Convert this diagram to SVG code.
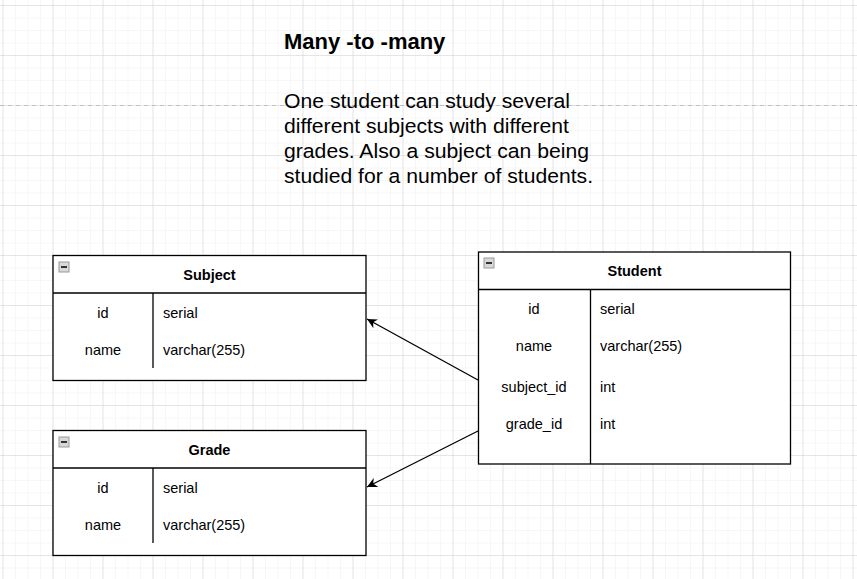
<svg xmlns="http://www.w3.org/2000/svg" width="857" height="579" viewBox="0 0 857 579">
<defs>
<pattern id="minor" x="2.5" y="5" width="12.5" height="12.5" patternUnits="userSpaceOnUse">
<path d="M0 0 H12.5 M0 0 V12.5" fill="none" stroke="#efefef" stroke-width="1"/>
</pattern>
<pattern id="major" x="2.5" y="5" width="50" height="50" patternUnits="userSpaceOnUse">
<path d="M0 0 H50 M0 0 V50" fill="none" stroke="#d4d4d4" stroke-width="1"/>
</pattern>
<marker id="arr" markerWidth="12" markerHeight="10" refX="10" refY="5" orient="auto" markerUnits="userSpaceOnUse">
<path d="M0 0 L10 5 L0 10 L3 5 Z" fill="#000"/>
</marker>
<g id="icon">
<rect x="0" y="0" width="10" height="10" fill="#d8d8d8" stroke="#9a9a9a" stroke-width="1"/>
<rect x="2" y="4" width="6" height="2" fill="#333"/>
</g>
</defs>
<style>
.box{fill:#fff;stroke:#000;stroke-width:1.3}
.ln{stroke:#000;stroke-width:1.3;fill:none}
.hd{font-family:"Liberation Sans",Arial,sans-serif;font-size:14.5px;font-weight:bold;text-anchor:middle}
.k{font-family:"Liberation Sans",Arial,sans-serif;font-size:14.5px;text-anchor:middle}
.v{font-family:"Liberation Sans",Arial,sans-serif;font-size:14.5px}
.t{font-family:"Liberation Sans",Arial,sans-serif}
</style>
<rect width="857" height="579" fill="#fff"/>
<rect width="857" height="579" fill="url(#minor)"/>
<rect width="857" height="579" fill="url(#major)"/>
<line x1="0" y1="105.5" x2="857" y2="105.5" stroke="#c0c0c0" stroke-width="1" stroke-dasharray="4 4"/>

<g id="title">
<text class="t" x="284" y="49" font-size="22" font-weight="bold">Many -to -many</text>
<text class="t" x="284" y="107.5" font-size="20.5" textLength="286" lengthAdjust="spacingAndGlyphs">One student can study several</text>
<text class="t" x="284" y="132.5" font-size="20.5" textLength="285" lengthAdjust="spacingAndGlyphs">different subjects with different</text>
<text class="t" x="284" y="157.5" font-size="20.5" textLength="305" lengthAdjust="spacingAndGlyphs">grades. Also a subject can being</text>
<text class="t" x="284" y="182.5" font-size="20.5" textLength="309" lengthAdjust="spacingAndGlyphs">studied for a number of students.</text>
</g>

<g id="subject">
<rect class="box" x="53" y="255.5" width="313" height="125"/>
<line class="ln" x1="53" y1="293" x2="366" y2="293"/>
<line class="ln" x1="153" y1="293" x2="153" y2="368"/>
<use href="#icon" x="59" y="262"/>
<text class="hd" x="209.5" y="280">Subject</text>
<text class="k" x="103" y="318">id</text>
<text class="v" x="163" y="318">serial</text>
<text class="k" x="103" y="355">name</text>
<text class="v" x="163" y="355">varchar(255)</text>
</g>

<g id="grade">
<rect class="box" x="53" y="430.5" width="313" height="125"/>
<line class="ln" x1="53" y1="468" x2="366" y2="468"/>
<line class="ln" x1="153" y1="468" x2="153" y2="543"/>
<use href="#icon" x="59" y="437"/>
<text class="hd" x="209.5" y="455">Grade</text>
<text class="k" x="103" y="493">id</text>
<text class="v" x="163" y="493">serial</text>
<text class="k" x="103" y="530">name</text>
<text class="v" x="163" y="530">varchar(255)</text>
</g>

<g id="student">
<rect class="box" x="478.5" y="252" width="312" height="212"/>
<line class="ln" x1="478.5" y1="289.5" x2="790.5" y2="289.5"/>
<line class="ln" x1="590.5" y1="289.5" x2="590.5" y2="464"/>
<use href="#icon" x="484" y="258"/>
<text class="hd" x="634.5" y="276">Student</text>
<text class="k" x="534" y="314">id</text>
<text class="v" x="600" y="314">serial</text>
<text class="k" x="534" y="351">name</text>
<text class="v" x="600" y="351">varchar(255)</text>
<text class="k" x="534" y="392">subject_id</text>
<text class="v" x="600" y="392">int</text>
<text class="k" x="534" y="429">grade_id</text>
<text class="v" x="600" y="429">int</text>
</g>

<g id="connectors">
<line class="ln" x1="478" y1="380" x2="367" y2="319" marker-end="url(#arr)"/>
<line class="ln" x1="478" y1="431" x2="367" y2="487" marker-end="url(#arr)"/>
</g>
</svg>
